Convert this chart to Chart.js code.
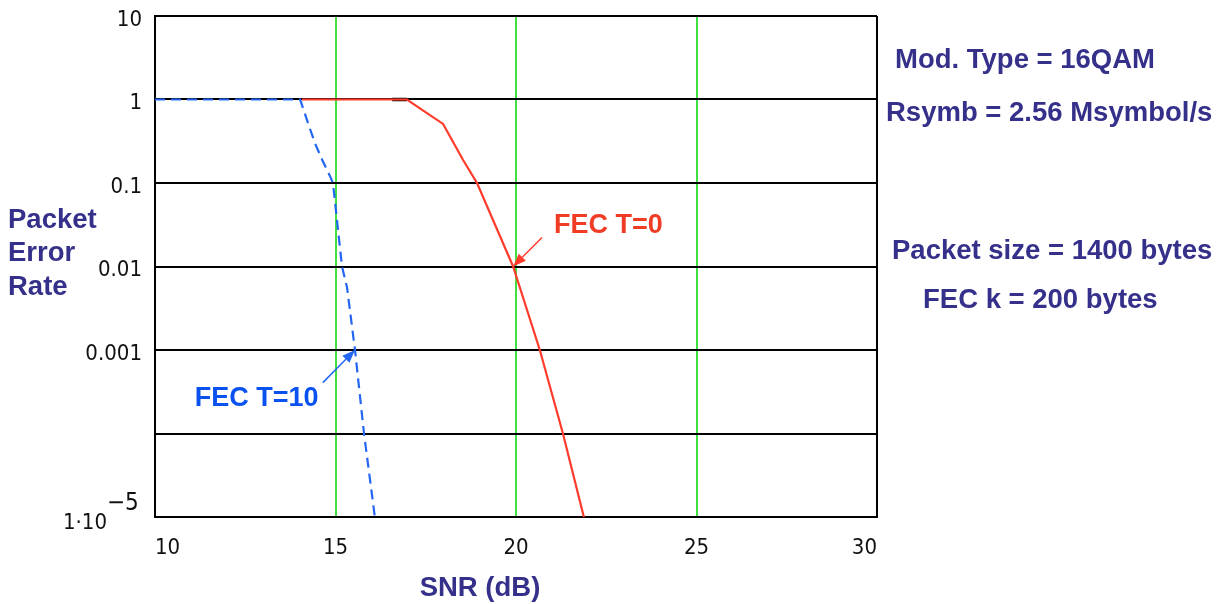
<!DOCTYPE html>
<html>
<head>
<meta charset="utf-8">
<script src="https://cdn.jsdelivr.net/npm/chart.js@4"></script>
<style>
html,body{margin:0;padding:0;background:#fff;}
#wrap{width:1228px;height:604px;position:relative;}
</style>
</head>
<body>
<div id="wrap"><canvas id="c" width="1228" height="604"></canvas></div>
<script>
// ---- data ----
const snrT0 = [14.07, 16.57, 16.98, 17.42, 17.98, 18.53, 18.92, 19.92, 20.66, 21.30, 21.88];
const perT0 = [1, 1, 1, 0.74, 0.51, 0.19, 0.1, 0.01, 0.001, 1e-4, 1e-5];
const snrT10 = [10, 14.02, 14.24, 14.43, 14.63, 14.85, 14.93, 15.18, 15.32, 15.54, 15.79, 16.09];
const perT10 = [1, 1, 0.52, 0.3, 0.19, 0.12, 0.1, 0.01, 0.0056, 0.001, 1e-4, 1e-5];
const markSnr = [16.57, 16.98];
const markPer = [1, 1];
const xTicks = [10, 15, 20, 25, 30];
const yTicks = [1e-5, 1e-4, 1e-3, 1e-2, 0.1, 1, 10];
const yTickLabels = ['', '', '0.001', '0.01', '0.1', '1', '10'];
const bottomTickBase = '1\u00B710';
const bottomTickExp = '\u22125';
const labelT0 = {text: 'FEC T=0', x: 21.05, y: 0.031, tailX: 20.72, tailY: 0.0222, tipX: 19.92, tipY: 0.01};
const labelT10 = {text: 'FEC T=10', x: 11.1, y: 2.63e-4, tailX: 14.65, tailY: 4.07e-4, tipX: 15.54, tipY: 0.001};
const sideNotes = ['Mod. Type = 16QAM', 'Rsymb = 2.56 Msymbol/s', 'Packet size = 1400 bytes', 'FEC k = 200 bytes'];
const yTitle = ['Packet', 'Error', 'Rate'];
const xTitle = 'SNR (dB)';

const pts = (xs, ys) => xs.map((x, i) => ({x: x, y: ys[i]}));

const RED = '#ff3b2b', BLUE = '#2466f2', NAVY = '#35308a';
const TICKFAM = '"DejaVu Sans Condensed", "DejaVu Sans", sans-serif';
const TICKFONT = {family: TICKFAM, size: 22};

function arrow(ctx, x1, y1, x2, y2, color) {
  const a = Math.atan2(y2 - y1, x2 - x1), L = 13, W = 5;
  ctx.save();
  ctx.strokeStyle = color; ctx.fillStyle = color; ctx.lineWidth = 1.5;
  ctx.beginPath(); ctx.moveTo(x1, y1);
  ctx.lineTo(x2 - L * Math.cos(a), y2 - L * Math.sin(a)); ctx.stroke();
  ctx.beginPath(); ctx.moveTo(x2, y2);
  ctx.lineTo(x2 - L * Math.cos(a) + W * Math.sin(a), y2 - L * Math.sin(a) - W * Math.cos(a));
  ctx.lineTo(x2 - L * Math.cos(a) - W * Math.sin(a), y2 - L * Math.sin(a) + W * Math.cos(a));
  ctx.closePath(); ctx.fill();
  ctx.restore();
}

const notes = {
  id: 'notes',
  afterDraw(chart) {
    const ctx = chart.ctx, xs = chart.scales.x, ys = chart.scales.y;
    ctx.save();
    // bottom y tick label 1·10^-5
    ctx.fillStyle = '#111';
    ctx.textBaseline = 'alphabetic';
    ctx.textAlign = 'right';
    ctx.font = '22px ' + TICKFAM;
    const yb = ys.getPixelForValue(yTicks[0]);
    ctx.fillText(bottomTickBase, 107, yb + 12);
    ctx.textAlign = 'left';
    ctx.font = '24px ' + TICKFAM;
    ctx.fillText(bottomTickExp, 107, yb - 7);

    ctx.textBaseline = 'middle';
    ctx.font = 'bold 27px "Liberation Sans", Arial, sans-serif';
    // annotations with arrows
    [[labelT0, RED, '#f03c24'], [labelT10, BLUE, '#0a52f0']].forEach(([l, lc, tc]) => {
      ctx.fillStyle = tc; ctx.textAlign = 'left';
      ctx.fillText(l.text, xs.getPixelForValue(l.x), ys.getPixelForValue(l.y));
      arrow(ctx, xs.getPixelForValue(l.tailX), ys.getPixelForValue(l.tailY),
            xs.getPixelForValue(l.tipX), ys.getPixelForValue(l.tipY), lc);
    });
    // axis titles
    ctx.font = 'bold 27.5px "Liberation Sans", Arial, sans-serif';
    ctx.fillStyle = NAVY;
    ctx.textAlign = 'left';
    const yy = [220, 253, 287];
    yTitle.forEach((t, i) => ctx.fillText(t, 8, yy[i]));
    ctx.textAlign = 'center';
    ctx.fillText(xTitle, 480, 588);
    // side notes
    ctx.textAlign = 'left';
    const pos = [[895, 60], [886, 113], [892, 251], [923, 300]];
    sideNotes.forEach((t, i) => ctx.fillText(t, pos[i][0], pos[i][1]));
    ctx.restore();
  }
};

new Chart(document.getElementById('c'), {
  type: 'line',
  data: {
    datasets: [
      {label: 'FEC T=10', data: pts(snrT10, perT10), borderColor: BLUE, borderWidth: 2.2,
       borderDash: [10, 6], pointRadius: 0, tension: 0, fill: false},
      {label: 'FEC T=0', data: pts(snrT0, perT0), borderColor: RED, borderWidth: 2.2,
       pointRadius: 0, tension: 0, fill: false},
      {label: 'mark', data: pts(markSnr, markPer), borderColor: '#000', borderWidth: 3.5,
       pointRadius: 0, tension: 0, fill: false}
    ]
  },
  options: {
    responsive: false,
    animation: false,
    events: [],
    layout: {padding: {left: 0, right: 351, top: 16, bottom: 0}},
    plugins: {legend: {display: false}, tooltip: {enabled: false}, title: {display: false}},
    scales: {
      x: {
        type: 'linear', min: 10, max: 30,
        afterBuildTicks: s => { s.ticks = xTicks.map(v => ({value: v})); },
        afterFit: s => { s.height = 87; s.paddingLeft = 0; s.paddingRight = 0; },
        ticks: {font: TICKFONT, color: '#111', padding: 18, maxRotation: 0, align: 'inner',
                callback: v => String(v)},
        grid: {drawTicks: false,
               color: c => (c.tick && (c.tick.value === 10 || c.tick.value === 30)) ? '#000' : '#3fe03f',
               lineWidth: 2},
        border: {display: true, color: '#000', width: 2}
      },
      y: {
        type: 'logarithmic', min: 1e-5, max: 10,
        afterBuildTicks: s => { s.ticks = yTicks.map(v => ({value: v, major: true})); },
        afterFit: s => { s.width = 155; s.paddingTop = 0; s.paddingBottom = 0; },
        ticks: {font: TICKFONT, color: '#111', padding: 13, autoSkip: false, labelOffset: 4,
                callback: (v, i) => yTickLabels[i]},
        grid: {drawTicks: false, color: '#000', lineWidth: 2},
        border: {display: true, color: '#000', width: 2}
      }
    }
  },
  plugins: [notes]
});
</script>
</body>
</html>
